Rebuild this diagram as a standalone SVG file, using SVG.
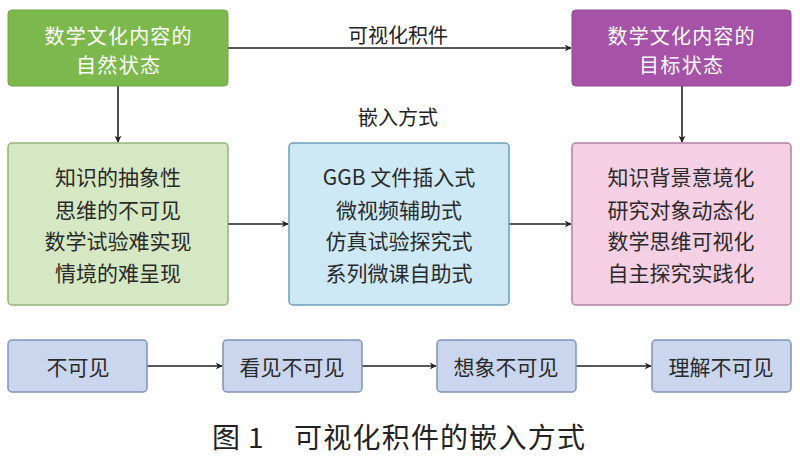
<svg xmlns="http://www.w3.org/2000/svg" width="800" height="457" viewBox="0 0 800 457">
<defs>
<marker id="ah" viewBox="0 0 10 10" refX="9" refY="5" markerWidth="7" markerHeight="7" orient="auto" markerUnits="userSpaceOnUse">
<path d="M0,0 L10,5 L0,10 L3,5 Z" fill="#222"/>
</marker>
<style>
text{font-family:"Noto Sans CJK SC","Noto Sans",sans-serif;text-anchor:middle;dominant-baseline:central}
.t{font-size:21px;fill:#2a2a2a}
.w{font-size:20px;fill:#ffffff}
.lbl{font-size:20px;fill:#222}
.cap{font-size:28px;fill:#222;text-anchor:start}
.c{stroke:#222;stroke-width:1.6;fill:none;marker-end:url(#ah)}
.s{fill:#cad6ee;stroke:#7f92b8;stroke-width:1.5}
</style>
</defs>
<rect width="800" height="457" fill="#ffffff"/>
<g id="connectors">
<line class="c" x1="228" y1="48" x2="571" y2="48"/>
<line class="c" x1="118" y1="86" x2="118" y2="142"/>
<line class="c" x1="682" y1="86" x2="682" y2="142"/>
<line class="c" x1="228" y1="224" x2="288" y2="224"/>
<line class="c" x1="509" y1="224" x2="571" y2="224"/>
<line class="c" x1="147" y1="366" x2="222" y2="366"/>
<line class="c" x1="362" y1="366" x2="436" y2="366"/>
<line class="c" x1="576" y1="366" x2="651" y2="366"/>
<text class="lbl" x="398" y="34">可视化积件</text>
<text class="lbl" x="398" y="116">嵌入方式</text>
</g>
<g id="natural">
<rect x="8" y="10" width="220" height="76" rx="4" fill="#7cb84c" stroke="#6fa843"/>
<text class="w" x="118" y="35" textLength="147" lengthAdjust="spacing">数学文化内容的</text>
<text class="w" x="118" y="64" textLength="84" lengthAdjust="spacing">自然状态</text>
</g>
<g id="target">
<rect x="572" y="10" width="219" height="76" rx="4" fill="#a552a8" stroke="#944696"/>
<text class="w" x="681" y="35" textLength="147" lengthAdjust="spacing">数学文化内容的</text>
<text class="w" x="681" y="64" textLength="84" lengthAdjust="spacing">目标状态</text>
</g>
<g id="problems">
<rect x="8" y="143" width="220" height="162" rx="4" fill="#d6e8c3" stroke="#93b57a" stroke-width="1.5"/>
<text class="t" x="118" y="176">知识的抽象性</text>
<text class="t" x="118" y="209">思维的不可见</text>
<text class="t" x="118" y="240">数学试验难实现</text>
<text class="t" x="118" y="272">情境的难呈现</text>
</g>
<g id="methods">
<rect x="289" y="143" width="220" height="162" rx="4" fill="#cde9f8" stroke="#6d9fb8" stroke-width="1.5"/>
<text class="t" x="399" y="176">GGB 文件插入式</text>
<text class="t" x="399" y="209">微视频辅助式</text>
<text class="t" x="399" y="240">仿真试验探究式</text>
<text class="t" x="399" y="272">系列微课自助式</text>
</g>
<g id="goals">
<rect x="572" y="143" width="219" height="162" rx="4" fill="#f5d0e4" stroke="#b47fa3" stroke-width="1.5"/>
<text class="t" x="681" y="176">知识背景意境化</text>
<text class="t" x="681" y="209">研究对象动态化</text>
<text class="t" x="681" y="240">数学思维可视化</text>
<text class="t" x="681" y="272">自主探究实践化</text>
</g>
<g id="s1">
<rect class="s" x="8" y="340" width="139" height="52" rx="4"/>
<text class="t" x="78" y="366">不可见</text>
</g>
<g id="s2">
<rect class="s" x="223" y="340" width="139" height="52" rx="4"/>
<text class="t" x="292" y="366">看见不可见</text>
</g>
<g id="s3">
<rect class="s" x="437" y="340" width="139" height="52" rx="4"/>
<text class="t" x="506" y="366">想象不可见</text>
</g>
<g id="s4">
<rect class="s" x="652" y="340" width="139" height="52" rx="4"/>
<text class="t" x="721" y="366">理解不可见</text>
</g>
<g id="caption">
<text class="cap" x="212" y="436">图</text>
<text class="cap" x="248" y="436">1</text>
<text class="cap" x="294" y="436" textLength="291" lengthAdjust="spacing">可视化积件的嵌入方式</text>
</g>
</svg>
